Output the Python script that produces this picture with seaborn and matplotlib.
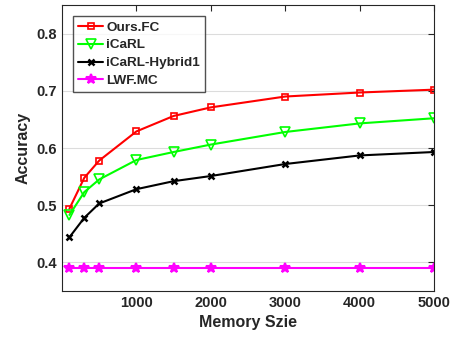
import pandas as pd
import numpy as np
import matplotlib
matplotlib.use('Agg')
import matplotlib.pyplot as plt
import seaborn as sns

memory = [100, 300, 500, 1000, 1500, 2000, 3000, 4000, 5000]
ours_fc = [0.494, 0.548, 0.578, 0.629, 0.656, 0.671, 0.690, 0.697, 0.702]
icarl = [0.483, 0.523, 0.545, 0.579, 0.593, 0.606, 0.628, 0.643, 0.652]
icarl_hybrid1 = [0.444, 0.478, 0.503, 0.528, 0.542, 0.551, 0.572, 0.587, 0.593]
lwf_mc = [0.390, 0.390, 0.390, 0.390, 0.390, 0.390, 0.390, 0.390, 0.390]

methods = ['Ours.FC', 'iCaRL', 'iCaRL-Hybrid1', 'LWF.MC']
series = [ours_fc, icarl, icarl_hybrid1, lwf_mc]
colors = ['#ff0000', '#00ff00', '#000000', '#ff00ff']
markers = ['s', 'v', 'x', '*']

sns.set_style('white')
plt.rcParams['font.family'] = ['Liberation Sans', 'DejaVu Sans']
plt.rcParams['font.weight'] = 'bold'

fig = plt.figure(figsize=(4.58, 3.41), dpi=100)
ax = fig.add_axes([62 / 458, 1 - 291 / 341, (434 - 62) / 458, (291 - 5) / 341])

ax.grid(axis='y', color='#dcdcdc', linewidth=0.8)
ax.set_axisbelow(True)

for name, vals, c, m in zip(methods, series, colors, markers):
    df = pd.DataFrame({'Memory': memory, 'Accuracy': vals})
    kw = dict(marker=m, markeredgecolor=c)
    if m == 's':
        kw.update(markersize=5, markerfacecolor='none', markeredgewidth=1.2)
    elif m == 'v':
        kw.update(markersize=6.5, markerfacecolor='none', markeredgewidth=1.2)
    elif m == 'x':
        kw.update(markersize=5, markeredgewidth=1.8)
    else:
        kw.update(markersize=7, markerfacecolor=c, markeredgewidth=1.5)
    sns.lineplot(data=df, x='Memory', y='Accuracy', color=c, linewidth=1.5,
                 label=name, ax=ax, **kw)

ax.set_xlim(0, 5000)
ax.set_ylim(0.35, 0.85)
ax.set_xticks([1000, 2000, 3000, 4000, 5000])
ax.set_yticks([0.4, 0.5, 0.6, 0.7, 0.8])
ax.tick_params(direction='in', length=4, top=True, right=True, labelsize=10.5,
               colors='#262626', width=0.8)
for lab in ax.get_xticklabels() + ax.get_yticklabels():
    lab.set_fontweight('bold')
for s in ax.spines.values():
    s.set_color('#262626')
    s.set_linewidth(0.8)

ax.set_xlabel('Memory Szie', fontsize=11.5, fontweight='bold', color='#262626')
ax.set_ylabel('Accuracy', fontsize=11.5, fontweight='bold', color='#262626')

leg = ax.legend(loc='upper left', bbox_to_anchor=(0.03, 0.96), fontsize=9.7,
                frameon=True, fancybox=False, edgecolor='#262626',
                handlelength=1.9, handletextpad=0.2, borderpad=0.35,
                labelspacing=0.4, borderaxespad=0)
leg.get_frame().set_linewidth(1)
for t in leg.get_texts():
    t.set_fontweight('bold')

fig.savefig('out.png', dpi=100)
